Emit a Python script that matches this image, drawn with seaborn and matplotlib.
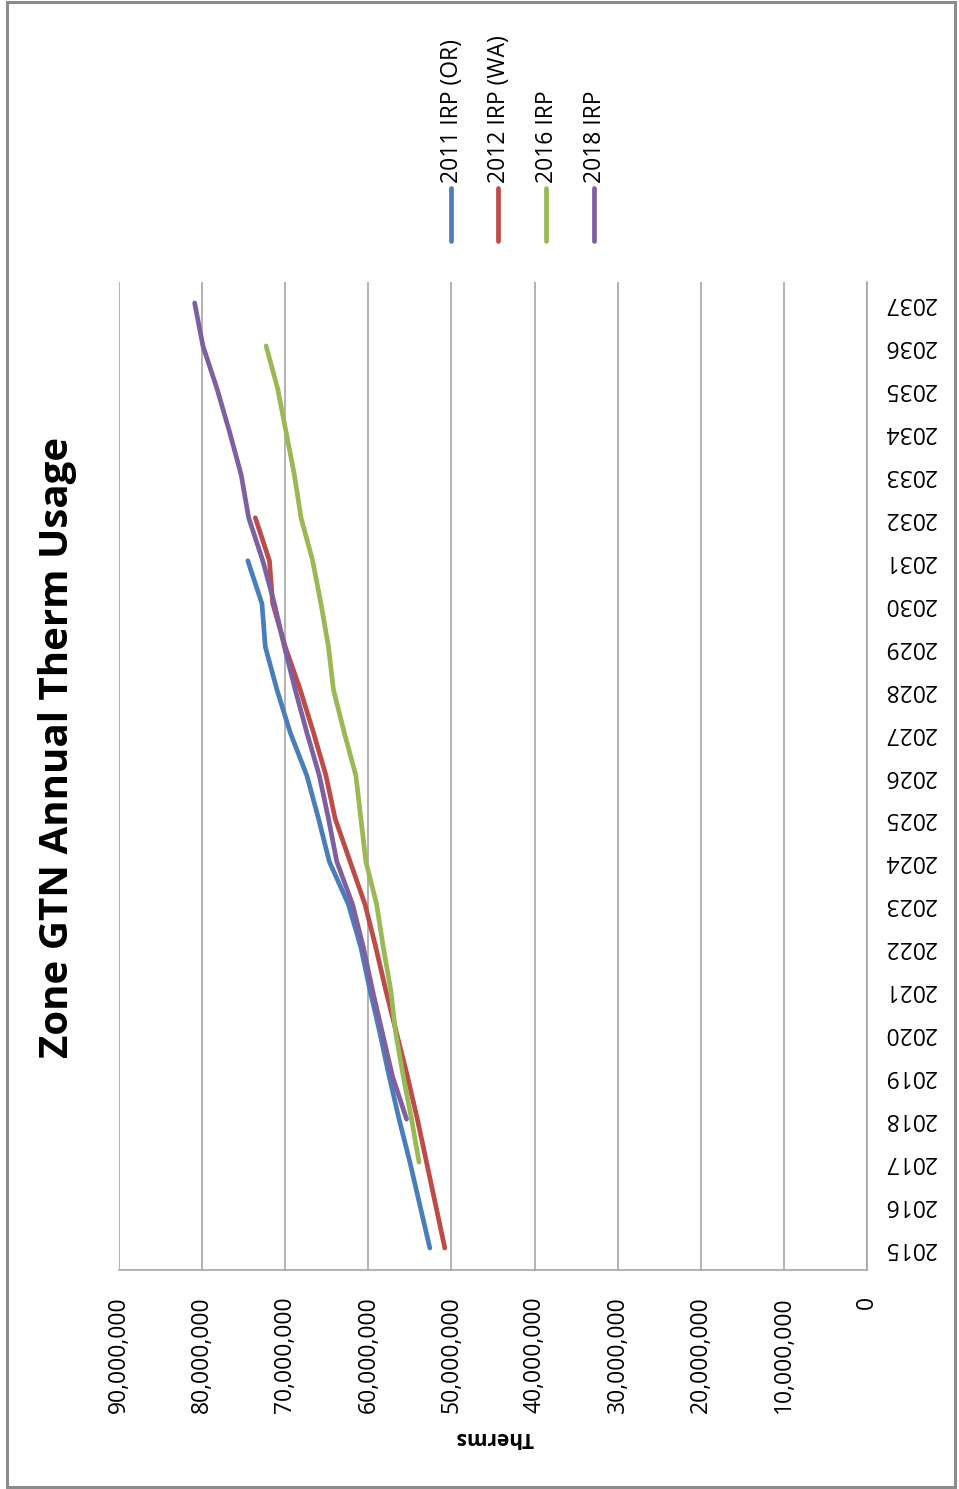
import matplotlib
matplotlib.use("Agg")
import matplotlib.pyplot as plt
import seaborn as sns
import pandas as pd
from matplotlib.lines import Line2D
from matplotlib.patches import Rectangle
from matplotlib.ticker import FuncFormatter

# ---- data (annual therms) ----
series_names = ["2011 IRP (OR)", "2012 IRP (WA)", "2016 IRP", "2018 IRP"]
series_colors = ["#4A7EBB", "#BE4B48", "#98B954", "#7D60A0"]

years_2011 = list(range(2015, 2032))
therms_2011 = [52_600_000, 53_800_000, 55_000_000, 56_300_000, 57_500_000,
               58_600_000, 59_800_000, 60_900_000, 62_400_000, 64_700_000,
               66_000_000, 67_400_000, 69_400_000, 71_000_000, 72_400_000,
               72_800_000, 74_500_000]

years_2012 = list(range(2015, 2033))
therms_2012 = [50_800_000, 51_900_000, 53_000_000, 54_100_000, 55_300_000,
               56_600_000, 57_900_000, 59_100_000, 60_400_000, 62_200_000,
               64_000_000, 65_100_000, 66_600_000, 68_200_000, 70_000_000,
               71_500_000, 71_900_000, 73_600_000]

years_2016 = list(range(2017, 2037))
therms_2016 = [53_900_000, 54_800_000, 55_800_000, 56_700_000, 57_300_000,
               58_200_000, 59_000_000, 60_300_000, 60_900_000, 61_500_000,
               62_900_000, 64_200_000, 64_800_000, 65_700_000, 66_700_000,
               68_100_000, 68_900_000, 69_900_000, 70_900_000, 72_300_000]

years_2018 = list(range(2018, 2038))
therms_2018 = [55_400_000, 57_100_000, 58_300_000, 59_500_000, 60_600_000,
               61_900_000, 63_800_000, 64_800_000, 65_900_000, 67_400_000,
               68_800_000, 70_100_000, 71_300_000, 72_700_000, 74_400_000,
               75_300_000, 76_700_000, 78_200_000, 79_900_000, 80_900_000]

year_ticks = list(range(2015, 2038))
value_ticks = [0, 10_000_000, 20_000_000, 30_000_000, 40_000_000,
               50_000_000, 60_000_000, 70_000_000, 80_000_000, 90_000_000]

title_text = "Zone GTN Annual Therm Usage"
value_label = "Therms"

# ---- long-form table ----
frames = []
for name, yrs, vals in zip(series_names,
                           [years_2011, years_2012, years_2016, years_2018],
                           [therms_2011, therms_2012, therms_2016, therms_2018]):
    frames.append(pd.DataFrame({"year": yrs, "therms": vals, "series": name}))
df = pd.concat(frames, ignore_index=True)

sns.set_style("white")
plt.rcParams["font.family"] = ["Open Sans", "DejaVu Sans"]

W, H = 959, 1489
fig = plt.figure(figsize=(W / 100, H / 100), dpi=100)
fig.patch.set_facecolor("white")

def fx(px):
    return px / W

def fy(py):
    return 1 - py / H

ax = fig.add_axes([fx(119), fy(1269.5), fx(867) - fx(119), fy(281.5) - fy(1269.5)])

sns.lineplot(data=df, x="therms", y="year", hue="series", hue_order=series_names,
             palette=series_colors, orient="y", sort=False, estimator=None,
             linewidth=3.4, solid_capstyle="round", legend=False, ax=ax)

# value axis runs right-to-left, years bottom-to-top
ax.set_xlim(90_000_000, 0)
ax.set_ylim(2014.5, 2037.5)
ax.set_xticks(value_ticks)
ax.xaxis.set_major_formatter(FuncFormatter(lambda v, p: f"{int(v):,}"))
ax.set_yticks(year_ticks)
ax.set_yticklabels([str(y) for y in year_ticks])

ax.grid(axis="x", color="#A6A6A6", linewidth=1.2)
ax.grid(axis="y", visible=False)
ax.set_axisbelow(True)

for side in ["left", "top"]:
    ax.spines[side].set_visible(False)
for side in ["bottom", "right"]:
    ax.spines[side].set_visible(True)
    ax.spines[side].set_color("#A6A6A6")
    ax.spines[side].set_linewidth(1.2)

ax.yaxis.tick_right()
ax.tick_params(axis="y", length=0, pad=12, labelsize=16.5, labelcolor="#000000")
ax.tick_params(axis="x", length=0, pad=19, labelsize=16.5, labelcolor="#000000")
for lbl in ax.get_yticklabels():
    lbl.set_rotation(180)
    lbl.set_va("center")
for lbl in ax.get_xticklabels():
    lbl.set_rotation(90)
    lbl.set_ha("center")
    lbl.set_va("top")

ax.set_xlabel("")
ax.set_ylabel("")

# axis title below the value labels
fig.text(fx(494), fy(1438), value_label, rotation=180, ha="center", va="center",
         fontsize=15, fontweight="bold", color="#000000")

# chart title
fig.text(fx(58), fy(747), title_text, rotation=90, ha="center", va="center",
         fontsize=29, fontweight="bold", color="#000000")

# legend: vertical swatches with rotated labels
legend_x = [451, 498, 546, 594]
for name, color, lx in zip(series_names, series_colors, legend_x):
    fig.add_artist(Line2D([fx(lx), fx(lx)], [fy(241), fy(188)], color=color,
                          linewidth=3.4, solid_capstyle="round",
                          transform=fig.transFigure))
    fig.text(fx(lx + 1), fy(183), name, rotation=90, ha="center", va="bottom",
             fontsize=16.5, color="#000000")

# outer chart frame
fig.add_artist(Rectangle((fx(7), fy(1487)), fx(955) - fx(7), fy(2) - fy(1487),
                         transform=fig.transFigure, fill=False,
                         edgecolor="#8C8C8C", linewidth=2.2))

fig.savefig("out.png", dpi=100, facecolor="white")
